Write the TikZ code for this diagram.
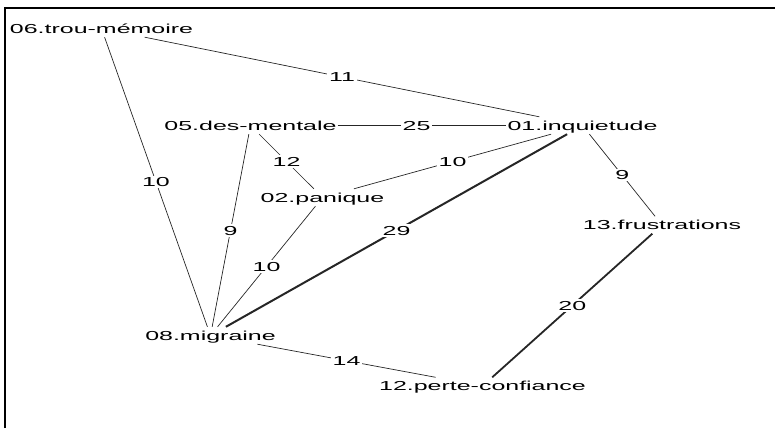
\documentclass[tikz,border=0pt]{standalone}
\usepackage{fontspec}
\setmainfont{Liberation Sans}[FakeStretch=1.92]
\usetikzlibrary{calc}
\tikzset{
  term/.style={font=\fontsize{13}{13}\selectfont, inner xsep=1pt, inner ysep=0pt,
    text height=9.3pt, text depth=0pt, minimum height=17pt},
  wlabel/.style={font=\fontsize{13}{13}\selectfont, fill=white, inner xsep=2pt,
    inner ysep=1.5pt, text height=9.3pt, text depth=0pt},
  thin tie/.style={line width=0.7pt, draw=black!85},
  frame/.style={line width=2pt, draw=black},
}
\begin{document}
\begin{tikzpicture}[x=1pt, y=-1pt]
  \useasboundingbox (0,0) rectangle (775,428);
  % plot frame (left and top sides only)
  \draw[frame] (5,428) -- (5,8.3) -- (775,8.3);

  % terms
  \node[term] (n06) at (101.5,28.5) {06.trou-mémoire};
  \node[term] (n05) at (250.5,125.5) {05.des-mentale};
  \node[term] (n01) at (582.5,125.5) {01.inquietude};
  \node[term] (n02) at (322.5,197.5) {02.panique};
  \node[term] (n13) at (662,225) {13.frustrations};
  \node[term] (n08) at (210.5,335.5) {08.migraine};
  \node[term] (n12) at (482.5,386) {12.perte-confiance};

  % weighted co-occurrence links: from / to / weight / line width
  \foreach \a/\b/\w/\lw in {
      n06/n01/11/0.7pt, n05/n01/25/1.7pt, n05/n02/12/0.7pt,
      n02/n01/10/0.7pt, n06/n08/10/0.7pt, n05/n08/9/0.7pt,
      n02/n08/10/0.7pt, n01/n08/29/2pt,   n01/n13/9/0.7pt,
      n13/n12/20/1.8pt, n08/n12/14/0.7pt} {
    \draw[thin tie, line width=\lw] (\a) -- (\b);
    \node[wlabel] at ($(\a)!0.5!(\b)$) {\w};
  }
\end{tikzpicture}
\end{document}
